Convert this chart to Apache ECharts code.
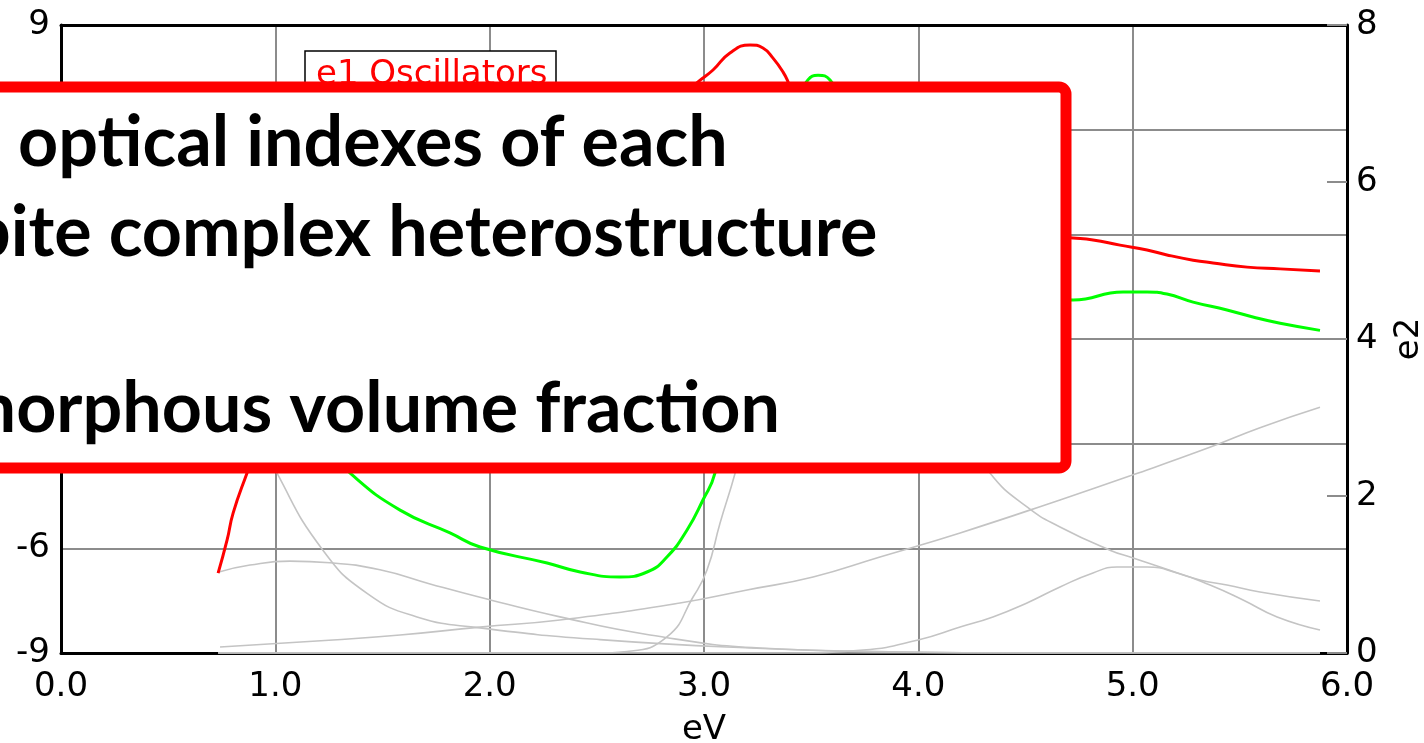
<!DOCTYPE html>
<html>
<head>
<meta charset="utf-8">
<script src="https://cdn.jsdelivr.net/npm/echarts@6/dist/echarts.min.js"></script>
<style>
html,body{margin:0;padding:0;background:#fff;}
#chart{width:1424px;height:743px;}
</style>
</head>
<body>
<div id="chart"></div>
<script>
// ---- tick labels ----
const xTickLabels = ['0.0', '1.0', '2.0', '3.0', '4.0', '5.0', '6.0'];
const e1TickLabels = ['-9', '-6', '-3', '0', '3', '6', '9'];
const e2TickLabels = ['0', '2', '4', '6', '8'];

// ---- data: [eV, value] ----
// e1 (left axis), red
const e1Curve = [
  [0.733, -6.71], [0.775, -5.76], [0.803, -4.99], [0.868, -3.84],
  [1.0, -1.6], [1.2, 0.6], [1.5, 2.5], [2.0, 4.3], [2.5, 5.5], [2.8, 6.5],
  [2.972, 7.37], [3.042, 7.71], [3.121, 8.20], [3.215, 8.43], [3.275, 8.34],
  [3.322, 8.05], [3.369, 7.65], [3.392, 7.37],
  [3.5, 5.8], [3.7, 4.2], [4.0, 3.3], [4.4, 3.05],
  [4.722, 2.895], [4.815, 2.84], [4.941, 2.69], [5.067, 2.55], [5.160, 2.41],
  [5.282, 2.26], [5.375, 2.18], [5.534, 2.06], [5.688, 2.01], [5.874, 1.95]
];
// e2 (right axis), green
const e2Curve = [
  [0.733, 6.6], [0.85, 5.2], [1.0, 3.9], [1.15, 3.0], [1.25, 2.6],
  [1.349, 2.29], [1.582, 1.82], [1.815, 1.53], [1.955, 1.35], [2.268, 1.146],
  [2.422, 1.032], [2.608, 0.968], [2.734, 1.032], [2.827, 1.223], [2.921, 1.567],
  [2.995, 1.949], [3.051, 2.29],
  [3.15, 3.6], [3.25, 5.0], [3.35, 6.3], [3.43, 7.0],
  [3.485, 7.30], [3.532, 7.36], [3.588, 7.30],
  [3.7, 6.8], [3.9, 5.9], [4.1, 5.2], [4.4, 4.7],
  [4.722, 4.497], [4.955, 4.60], [5.067, 4.60], [5.160, 4.573], [5.282, 4.47],
  [5.440, 4.37], [5.561, 4.28], [5.688, 4.20], [5.874, 4.11]
];
// e2 oscillator components (right axis), grey
const oscDrude = [
  [0.733, 4.6], [0.8, 3.8], [0.9, 2.95], [1.008, 2.29], [1.222, 1.31], [1.428, 0.76],
  [1.661, 0.46], [1.955, 0.32], [2.515, 0.17], [3.215, 0.064], [3.915, 0.013],
  [4.5, 0], [5.874, 0]
];
const oscLow = [
  [0.733, 1.03], [0.882, 1.12], [1.068, 1.17], [1.255, 1.15], [1.488, 1.06],
  [1.722, 0.88], [1.955, 0.71], [2.328, 0.46], [2.748, 0.23], [3.261, 0.064],
  [3.915, 0.013], [4.5, 0], [5.874, 0]
];
const oscRise = [
  [0.742, 0.076], [1.269, 0.166], [1.582, 0.229], [1.955, 0.33], [2.328, 0.42],
  [2.888, 0.637], [3.201, 0.803], [3.509, 0.968], [3.821, 1.223], [4.195, 1.53],
  [4.661, 1.95], [5.002, 2.27], [5.36, 2.62], [5.594, 2.87], [5.874, 3.13]
];
const oscGap = [
  [0.733, 0], [2.5, 0], [2.641, 0.02], [2.827, 0.204], [2.949, 0.713], [3.014, 1.057],
  [3.075, 1.656], [3.145, 2.29], [3.25, 3.4], [3.4, 4.6], [3.6, 5.3], [3.8, 5.0],
  [4.0, 4.0], [4.2, 2.9], [4.335, 2.29], [4.507, 1.86], [4.661, 1.605], [4.894, 1.31],
  [5.002, 1.21], [5.128, 1.096], [5.314, 0.93], [5.440, 0.866], [5.594, 0.777],
  [5.874, 0.662]
];
const oscHigh = [
  [0.733, 0], [3.4, 0], [3.742, 0.038], [3.999, 0.166], [4.195, 0.331], [4.348, 0.459],
  [4.507, 0.637], [4.661, 0.841], [4.815, 1.02], [4.927, 1.096], [5.067, 1.096],
  [5.207, 1.02], [5.361, 0.866], [5.515, 0.675], [5.674, 0.459], [5.874, 0.293]
];
const oscZero = [[0.733, 0], [5.874, 0]];

// ---- overlay text ----
const legendText = 'e1 Oscillators';
const overlayLines = ['optical indexes of each', 'bite complex heterostructure', 'amorphous volume fraction'];

const AXIS_FONT = 'DejaVu Sans';
const GRID_COLOR = '#8c8c8c';
const OSC_COLOR = '#c4c4c4';
const SMOOTH = 0.5;

function oscSeries(data) {
  return {
    type: 'line', data: data, xAxisIndex: 0, yAxisIndex: 1,
    showSymbol: false, symbol: 'none', smooth: SMOOTH,
    lineStyle: { color: OSC_COLOR, width: 1.6 }, z: 2, silent: true
  };
}

const chart = echarts.init(document.getElementById('chart'), null, { renderer: 'canvas' });
const labelStyle = { fontFamily: AXIS_FONT, fontSize: 34, color: '#000' };
const OVERLAY_FONT = 'bold 70px Lato';

const option = {
  animation: false,
  backgroundColor: '#fff',
  grid: { left: 61, right: 77, top: 25, bottom: 90, containLabel: false, outerBoundsMode: 'none' },
  xAxis: [
    {
      type: 'value', min: 0, max: 6, interval: 1, position: 'bottom',
      axisLine: { show: true, onZero: false, lineStyle: { color: '#000', width: 3 } },
      axisTick: { show: false },
      splitLine: { show: true, showMinLine: false, showMaxLine: false, lineStyle: { color: GRID_COLOR, width: 2 } },
      axisLabel: Object.assign({ margin: 17, formatter: v => xTickLabels[Math.round(v)] }, labelStyle),
      name: 'eV', nameLocation: 'middle', nameGap: 60,
      nameTextStyle: labelStyle
    },
    {
      type: 'value', min: 0, max: 6, interval: 1, position: 'top',
      axisLine: { show: true, onZero: false, lineStyle: { color: '#000', width: 3 } },
      axisTick: { show: false }, axisLabel: { show: false }, splitLine: { show: false }
    }
  ],
  yAxis: [
    {
      type: 'value', min: -9, max: 9, interval: 3, position: 'left',
      axisLine: { show: true, onZero: false, lineStyle: { color: '#000', width: 3 } },
      axisTick: { show: false },
      splitLine: { show: true, showMinLine: false, showMaxLine: false, lineStyle: { color: GRID_COLOR, width: 2 } },
      axisLabel: Object.assign({ margin: 11, formatter: v => e1TickLabels[Math.round((v + 9) / 3)] }, labelStyle)
    },
    {
      type: 'value', min: 0, max: 8, interval: 2, position: 'right',
      axisLine: { show: true, onZero: false, lineStyle: { color: '#000', width: 3 } },
      axisTick: { show: true, inside: true, length: 20, lineStyle: { color: GRID_COLOR, width: 2 } },
      splitLine: { show: false },
      axisLabel: Object.assign({ margin: 9, formatter: v => e2TickLabels[Math.round(v / 2)] }, labelStyle),
      name: 'e2', nameLocation: 'middle', nameGap: 45, nameRotate: 90,
      nameTextStyle: labelStyle
    }
  ],
  series: [
    oscSeries(oscZero),
    oscSeries(oscDrude),
    oscSeries(oscLow),
    oscSeries(oscRise),
    oscSeries(oscGap),
    oscSeries(oscHigh),
    {
      name: 'e2', type: 'line', data: e2Curve, xAxisIndex: 0, yAxisIndex: 1,
      showSymbol: false, symbol: 'none', smooth: SMOOTH,
      lineStyle: { color: '#00ff00', width: 3 }, z: 3
    },
    {
      name: 'e1', type: 'line', data: e1Curve, xAxisIndex: 0, yAxisIndex: 0,
      showSymbol: false, symbol: 'none', smooth: SMOOTH,
      lineStyle: { color: '#ff0000', width: 3 }, z: 4
    }
  ],
  graphic: [
    { type: 'rect', z: 50, shape: { x: 305, y: 51, width: 251, height: 80 },
      style: { fill: '#fff', stroke: '#000', lineWidth: 1.5 } },
    { type: 'text', z: 51, style: { x: 316, y: 58, text: legendText, fill: '#ff0000',
      font: '34px "DejaVu Sans"', verticalAlign: 'top', align: 'left' } },
    { type: 'rect', z: 100, shape: { x: -40, y: 87, width: 1106, height: 381, r: 7 },
      style: { fill: '#ffffff', stroke: '#ff0000', lineWidth: 11 } },
    { type: 'text', z: 101, style: { x: 18, y: 143, text: overlayLines[0], fill: '#000',
      font: OVERLAY_FONT, verticalAlign: 'middle', align: 'left' } },
    { type: 'text', z: 101, style: { x: -29, y: 233, text: overlayLines[1], fill: '#000',
      font: OVERLAY_FONT, verticalAlign: 'middle', align: 'left' } },
    { type: 'text', z: 101, style: { x: -78, y: 409, text: overlayLines[2], fill: '#000',
      font: OVERLAY_FONT, verticalAlign: 'middle', align: 'left' } }
  ]
};
chart.setOption(option);
</script>
</body>
</html>
